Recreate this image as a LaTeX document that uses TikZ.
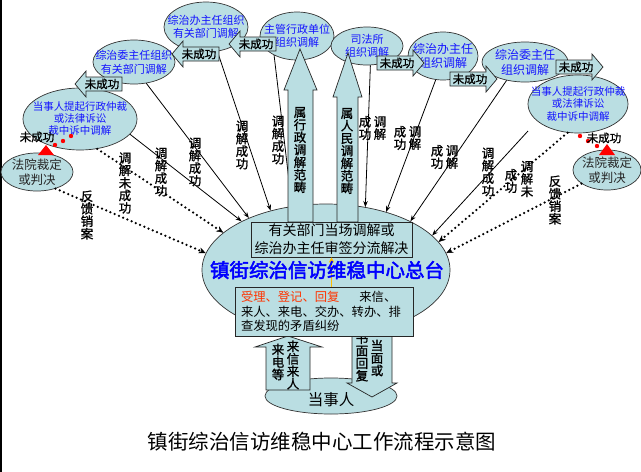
\documentclass[tikz,border=0pt]{standalone}
\usepackage{fontspec}
\setmainfont{Noto Sans CJK SC}[AutoFakeBold=2.5]
\newfontfamily\lbf{Noto Sans CJK SC}[FakeBold=1.1]
\usetikzlibrary{shapes.geometric,arrows.meta}
\definecolor{lb}{RGB}{186,222,226}
\definecolor{tblue}{RGB}{20,20,255}
\definecolor{tred}{RGB}{255,51,0}
\definecolor{gold}{RGB}{255,190,0}
\begin{document}
\begin{tikzpicture}[x=1pt,y=-1pt,
  ell/.style={ellipse, draw=black!80, line width=0.7pt, fill=lb, inner sep=0pt},
  blk/.style={draw=black!85, line width=0.7pt, fill=lb},
  etxt/.style={text=tblue, align=center, inner sep=0pt},
  ctxt/.style={text=black!85, align=center, inner sep=0pt, font=\fontsize{12.5}{15}\selectfont},
  vlab/.style={align=center, inner sep=0pt, font=\lbf\fontsize{12.5}{12.5}\selectfont},
  sline/.style={line width=0.8pt, -{Stealth[length=6pt,width=4.5pt]}},
  dline/.style={line width=2.5pt, dash pattern=on 0pt off 4.6pt, line cap=round, -{Stealth[length=7pt,width=6pt,line width=0.4pt]}},
  failtxt/.style={font=\lbf\fontsize{11.5}{12}\selectfont, inner sep=0pt},
  failL/.pic={\draw[blk] (-18,-7) -- (18,-7) -- (18,7) -- (-18,7) -- (-18,13) -- (-29,0) -- (-18,-13) -- cycle;
              \node[failtxt] (-t) at (-2,0) {未成功};},
  failR/.pic={\draw[blk] (18,-7) -- (-18,-7) -- (-18,7) -- (18,7) -- (18,13) -- (29,0) -- (18,-13) -- cycle;
              \node[failtxt] (-t) at (2,0) {未成功};}
]
\useasboundingbox (0,0) rectangle (641,472);
\fill[white] (0,0) rectangle (641,472);
\draw[line width=1.5pt] (0.75,0) -- (0.75,472);

% ellipses
\node[ell, minimum width=248pt, minimum height=132pt] (hub) at (326,270) {};
\node[ell, minimum width=114pt, minimum height=62pt] (ea) at (80,119) {};
\node[ell, minimum width=82pt, minimum height=44pt] (eb) at (134,62) {};
\node[ell, minimum width=84pt, minimum height=50pt] (ec) at (206,27) {};
\node[ell, minimum width=74pt, minimum height=48pt] (ed) at (297,36) {};
\node[ell, minimum width=72pt, minimum height=38pt] (ee) at (367,46) {};
\node[ell, minimum width=70pt, minimum height=48pt] (ef) at (443,56) {};
\node[ell, minimum width=86pt, minimum height=40pt] (eg) at (525,62) {};
\node[ell, minimum width=100pt, minimum height=58pt] (eh) at (578,104) {};
\node[ell, minimum width=72pt, minimum height=38pt] (courtL) at (37,172) {};
\node[ell, minimum width=68pt, minimum height=40pt] (courtR) at (607,170) {};
\node[ell, minimum width=132pt, minimum height=36pt] (pe) at (331,396) {};

% ellipse texts
\node[etxt, font=\fontsize{10.5}{12}\selectfont] (eat) at (ea) {当事人提起行政仲裁\\或法律诉讼\\裁中诉中调解};
\node[etxt, font=\fontsize{11}{14}\selectfont] (ebt) at (eb) {综治委主任组织\\有关部门调解};
\node[etxt, font=\fontsize{11}{13}\selectfont] (ect) at (ec) {综治办主任组织\\有关部门调解};
\node[etxt, font=\fontsize{11}{12.5}\selectfont] (edt) at (ed) {主管行政单位\\组织调解};
\node[etxt, font=\fontsize{11}{13.5}\selectfont] (eet) at (ee) {司法所\\组织调解};
\node[etxt, font=\fontsize{12}{13.5}\selectfont] (eft) at (ef) {综治办主任\\组织调解};
\node[etxt, font=\fontsize{12}{15}\selectfont] (egt) at (eg) {综治委主任\\组织调解};
\node[etxt, font=\fontsize{10.5}{12.5}\selectfont] (eht) at (eh) {当事人提起行政仲裁\\或法律诉讼\\裁中诉中调解};
\node[ctxt] (clt) at (courtL) {法院裁定\\或判决};
\node[ctxt] (crt) at (courtR) {法院裁定\\或判决};

% solid connectors
\draw[sline] (ea.-17) -- (hub.150);
\draw[sline] (eb.-60) -- (hub.146);
\draw[sline] (ec.-65) -- (hub.133);
\draw[sline] (ed.-140) -- (hub.118);
\draw[sline] (ee.-80) -- (hub.58);
\draw[sline] (ef.-107) -- (hub.44);
\draw[sline] (eg.-135) -- (hub.30);
\coordinate (hs) at (528,131);
\draw[sline] (hs) -- (hub.18);

% dotted connectors
\draw[dline] (ea.-60) -- (hub.160);
\draw[dline] (courtL.-42) -- (hub.172);
\draw[dline] (eh.-110) -- (hub.14);
\draw[dline] (courtR.-152) -- (hub.8);

% big up arrows
\draw[blk] (288,222) -- (288,90) -- (284,90) -- (300,49) -- (317,90) -- (313,90) -- (313,222) -- cycle;
\draw[blk] (337,222) -- (337,97) -- (333,97) -- (348,53) -- (362,97) -- (358,97) -- (358,222) -- cycle;
\node[vlab] (bigL) at (300,150) {属\\行\\政\\调\\解\\范\\畴};
\node[vlab] (bigR) at (347,151) {属\\人\\民\\调\\解\\范\\畴};

% bottom arrows
\draw[blk] (266,390) -- (266,347) -- (255,347) -- (288,336) -- (322,347) -- (310,347) -- (310,390) -- cycle;
\draw[blk] (352,336) -- (352,383) -- (347,383) -- (372,397) -- (397,383) -- (392,383) -- (392,336) -- cycle;
\node[vlab] (ua1) at (293,365) {来\\信\\来\\人};
\node[vlab] (ua2) at (278,362) {来\\电\\等};
\node[vlab] (da1) at (362,357) {书\\面\\回\\复};
\node[vlab] (da2) at (377,358) {当\\面\\或};
\node[font=\fontsize{15.5}{16}\selectfont, inner sep=0pt] (pet) at (331,400) {当事人};

% boxes
\node[blk, minimum width=161pt, minimum height=35pt, inner sep=0pt] (topbox) at (331.5,239.5) {};
\node[align=center, inner sep=0pt, font=\fontsize{14}{18}\selectfont] (topt) at (topbox) {有关部门当场调解或\\综治办主任审签分流解决};
\node[blk, minimum width=178pt, minimum height=49pt, inner sep=0pt] (botbox) at (324,311.5) {};
\node[align=left, text width=166pt, inner sep=0pt, font=\fontsize{12.3}{14.5}\selectfont] (bott) at (botbox) {{\color{tred}受理、登记、回复}\hspace{20pt}来信、\\来人、来电、交办、转办、排\\查发现的矛盾纠纷};
\draw[gold, line width=1.6pt, -{Triangle[length=5pt,width=5pt]}] (botbox.north -| topbox.south) -- (topbox.south);

\node[text=blue, font=\bfseries\fontsize{19.5}{20}\selectfont, inner sep=0pt] (hubt) at (327,270) {镇街综治信访维稳中心总台};

% fail arrows
\pic (f1) at (104,84) {failL};
\pic (f2) at (201,54) {failL};
\pic (f3) at (258,44) {failL};
\pic (f4) at (395,63) {failR};
\pic (f5) at (468,79) {failR};
\pic (f6) at (574,67) {failR};

% red markers
\foreach \p in {(71,136),(63,141),(55,145),(580,136),(588,141),(597,146)}
  \fill[red] \p circle[radius=2.2pt];
\fill[red] (46,145) -- (54,155) -- (38,155) -- cycle;
\fill[red] (607,144) -- (615,155) -- (599,155) -- cycle;
\node[failtxt] (rl) at (37,137) {未成功};
\node[failtxt] (rr) at (604,138) {未成功};

% vertical labels
\node[vlab] (t1) at (125,183) {调\\解\\未\\成\\功};
\node[vlab] (t2) at (161,172) {调\\解\\成\\功};
\node[vlab] (t3) at (195,162) {调\\解\\成\\功};
\node[vlab] (t4) at (242,145) {调\\解\\成\\功};
\node[vlab] (t5) at (278,140) {调\\解\\成\\功};
\node[vlab] (t6a) at (380,128) {调\\解};
\node[vlab] (t6b) at (365,128) {成\\功};
\node[vlab] (t7a) at (415,138) {调\\解};
\node[vlab] (t7b) at (400,138) {成\\功};
\node[vlab] (t8a) at (452,157) {调\\解};
\node[vlab] (t8b) at (437,157) {成\\功};
\node[vlab] (t9) at (488,172) {调\\解\\成\\功};
\node[vlab] (t10a) at (527,179) {调\\解\\未};
\node[vlab] (t10b) at (511,181) {成\\功};
\node[vlab] (t11) at (555,200) {反\\馈\\销\\案};
\node[vlab] (t12) at (87,215) {反\\馈\\销\\案};

\node[font=\fontsize{20.5}{22}\selectfont, inner sep=0pt] (title) at (322,442) {镇街综治信访维稳中心工作流程示意图};
\end{tikzpicture}
\end{document}
